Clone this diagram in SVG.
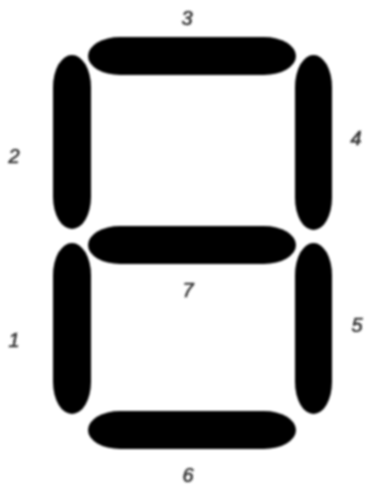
<svg xmlns="http://www.w3.org/2000/svg" width="366" height="491" viewBox="0 0 366 491">
  <defs>
    <filter id="soft" x="-10%" y="-10%" width="120%" height="120%">
      <feGaussianBlur stdDeviation="1"/>
    </filter>
  </defs>
  <style>
    .h { fill: #000; }
    .v { fill: #000; }
    .lbl { font-family: "Liberation Sans", Arial, sans-serif; font-size: 20px; font-style: italic; fill: #333; stroke: #333; stroke-width: 0.6; text-anchor: middle; dominant-baseline: central; }
  </style>
  <rect width="366" height="491" fill="#fff"/>
  <g id="segments" filter="url(#soft)">
    <g id="seg3"><rect class="h" x="88" y="37" width="208" height="38" rx="32" ry="19"/></g>
    <g id="seg2"><rect class="v" x="53" y="55" width="38" height="174" rx="19" ry="32"/></g>
    <g id="seg4"><rect class="v" x="295" y="55" width="37" height="175" rx="18.5" ry="32"/></g>
    <g id="seg7"><rect class="h" x="88" y="226" width="208" height="38" rx="32" ry="19"/></g>
    <g id="seg1"><rect class="v" x="53" y="243" width="38" height="171" rx="19" ry="32"/></g>
    <g id="seg5"><rect class="v" x="295" y="243" width="37" height="171" rx="18.5" ry="32"/></g>
    <g id="seg6"><rect class="h" x="88" y="411" width="208" height="38" rx="32" ry="19"/></g>
  </g>
  <g id="labels" filter="url(#soft)">
    <text class="lbl" x="187" y="18">3</text>
    <text class="lbl" x="14" y="156">2</text>
    <text class="lbl" x="356" y="138">4</text>
    <text class="lbl" x="188" y="290">7</text>
    <text class="lbl" x="14" y="340">1</text>
    <text class="lbl" x="357" y="325">5</text>
    <text class="lbl" x="188" y="475">6</text>
  </g>
</svg>
